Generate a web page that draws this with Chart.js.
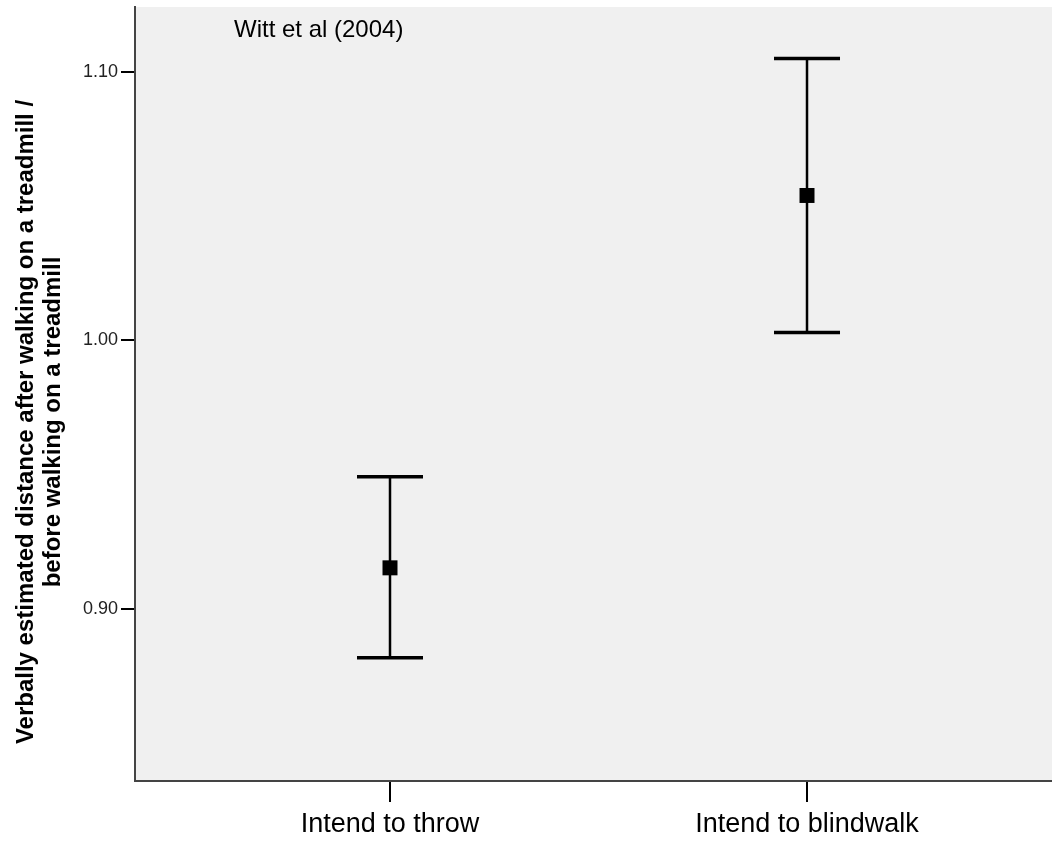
<!DOCTYPE html>
<html>
<head>
<meta charset="utf-8">
<script src="https://cdn.jsdelivr.net/npm/chart.js@4/dist/chart.umd.min.js"></script>
<style>
  html, body { margin: 0; padding: 0; background: #fff; }
  #wrap { width: 1052px; height: 845px; }
</style>
</head>
<body>
<div id="wrap"><canvas id="myChart"></canvas></div>
<script>
const categories = ['Intend to throw', 'Intend to blindwalk'];
const positions = [1, 2];
const means = [0.9153, 1.054];
const upper = [0.9492, 1.105];
const lower = [0.8818, 1.003];
const yTicks = [0.90, 1.00, 1.10];
const yTitle = ['Verbally estimated distance after walking on a treadmill /', 'before walking on a treadmill'];

const points = positions.map((x, i) => ({ x: x, y: means[i] }));

const backdrop = {
  id: 'backdrop',
  beforeDraw(chart) {
    const { ctx, chartArea: a } = chart;
    ctx.save();
    ctx.fillStyle = '#f0f0f0';
    ctx.fillRect(a.left, a.top, a.right - a.left, a.bottom - a.top);
    ctx.restore();
  }
};

const errorBars = {
  id: 'errorBars',
  beforeDatasetsDraw(chart) {
    const { ctx, scales } = chart;
    ctx.save();
    ctx.strokeStyle = '#000';
    positions.forEach((p, i) => {
      const x = scales.x.getPixelForValue(p);
      const yt = scales.y.getPixelForValue(upper[i]);
      const yb = scales.y.getPixelForValue(lower[i]);
      ctx.lineWidth = 2.5;
      ctx.beginPath();
      ctx.moveTo(x, yt);
      ctx.lineTo(x, yb);
      ctx.stroke();
      ctx.lineWidth = 3.5;
      ctx.beginPath();
      ctx.moveTo(x - 33, yt);
      ctx.lineTo(x + 33, yt);
      ctx.moveTo(x - 33, yb);
      ctx.lineTo(x + 33, yb);
      ctx.stroke();
    });
    ctx.restore();
  },
  afterDraw(chart) {
    const { ctx, chartArea: a } = chart;
    ctx.save();
    ctx.fillStyle = '#000';
    ctx.font = '24px "Liberation Sans", Arial, sans-serif';
    ctx.textBaseline = 'middle';
    ctx.fillText('Witt et al (2004)', a.left + 99, a.top + 23);
    // y axis title, two lines, rotated
    ctx.font = 'bold 24px "Liberation Sans", Arial, sans-serif';
    ctx.textAlign = 'center';
    ctx.translate(0, (a.top + a.bottom) / 2 + 28);
    ctx.rotate(-Math.PI / 2);
    ctx.fillText(yTitle[0], 0, 26);
    ctx.fillText(yTitle[1], 0, 53);
    ctx.restore();
  }
};

new Chart(document.getElementById('myChart'), {
  type: 'scatter',
  data: {
    datasets: [{
      data: points,
      pointStyle: 'rect',
      pointRadius: 10.6,
      pointHoverRadius: 10.6,
      backgroundColor: '#000',
      borderColor: '#000',
      borderWidth: 0
    }]
  },
  options: {
    responsive: true,
    maintainAspectRatio: false,
    animation: false,
    layout: { autoPadding: false, padding: { top: 0, right: 0, left: 0, bottom: 0 } },
    plugins: {
      legend: { display: false },
      tooltip: { enabled: false }
    },
    scales: {
      x: {
        type: 'linear',
        min: 0.3885,
        max: 2.5875,
        afterBuildTicks(axis) { axis.ticks = positions.map(v => ({ value: v })); },
        afterFit(axis) { axis.height = 64; },
        border: { color: '#444', width: 2 },
        grid: { drawOnChartArea: false, color: '#000', lineWidth: 2, tickLength: 21 },
        ticks: {
          color: '#000',
          padding: 6,
          font: { family: '"Liberation Sans", Arial, sans-serif', size: 27 },
          callback: (v) => categories[positions.indexOf(v)] || ''
        }
      },
      y: {
        min: 0.8359,
        max: 1.1242,
        afterBuildTicks(axis) { axis.ticks = yTicks.map(v => ({ value: v })); },
        afterFit(axis) { axis.width = 135; axis.paddingTop = 7; },
        border: { color: '#444', width: 2 },
        grid: { drawOnChartArea: false, color: '#000', lineWidth: 2, tickLength: 14 },
        ticks: {
          color: '#222',
          padding: 3,
          font: { family: '"Liberation Sans", Arial, sans-serif', size: 18 },
          callback: (v) => v.toFixed(2)
        }
      }
    }
  },
  plugins: [backdrop, errorBars]
});
</script>
</body>
</html>
